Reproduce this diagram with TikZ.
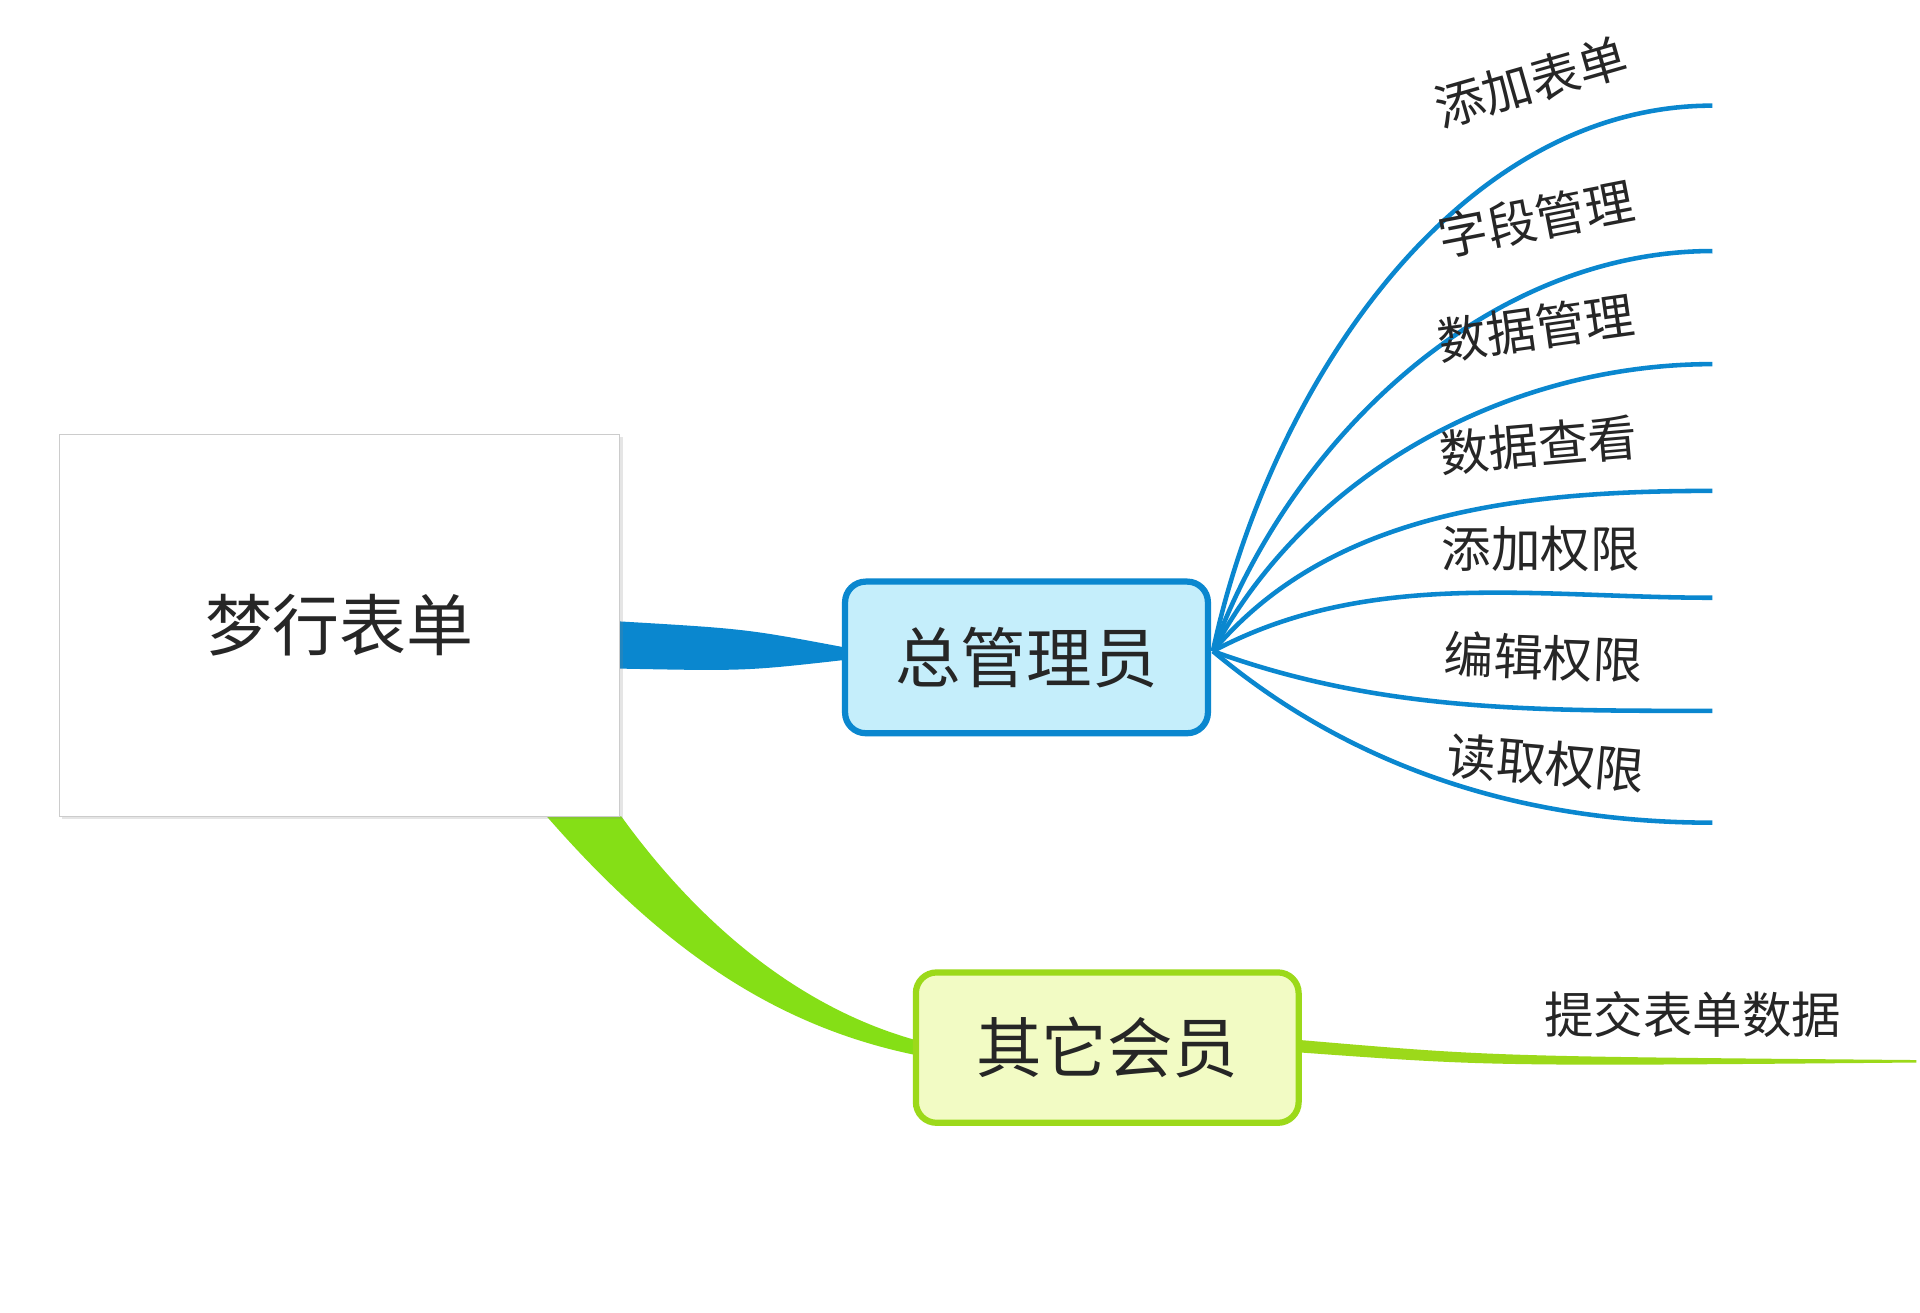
\documentclass[tikz,border=0pt]{standalone}
\usepackage{fontspec}
\newfontfamily\cjk{Noto Sans CJK SC}
\usetikzlibrary{shadows,calc}
\definecolor{bluel}{HTML}{0A87CF}
\definecolor{bluef}{HTML}{C5EEFB}
\definecolor{greenl}{HTML}{9CD91A}
\definecolor{greenf}{HTML}{F2FBC4}
\tikzset{
 leaf/.style={bluel, line width=1.1mm},
 leaftext/.style={font=\cjk\fontsize{34}{38}\selectfont, text=black!85, inner sep=0pt},
}
\begin{document}
\begin{tikzpicture}[x=0.3mm,y=-0.3mm]
\useasboundingbox[fill=white] (0,0) rectangle (1545,1056);
% green ribbon
\fill[greenl!85!green] (440,657) .. controls (530,760) and (620,825) .. (737,849) -- (737,837) .. controls (640,810) and (560,740) .. (500,657) -- cycle;
% blue ribbon
\fill[bluel] (498,500) .. controls (600,506) .. (680,521) -- (680,531) .. controls (600,540) .. (498,538) -- cycle;
% main node
\node[draw=black!20, fill=white, drop shadow={opacity=0.2}, minimum width=451*0.3mm, minimum height=307*0.3mm, font=\cjk\fontsize{46}{50}\selectfont, text=black!85] (main) at (273,503) {梦行表单};
\node[draw=bluel, fill=bluef, line width=1.5mm, rounded corners=5mm, minimum width=292*0.3mm, minimum height=122*0.3mm, font=\cjk\fontsize{45}{50}\selectfont, text=black!85] (admin) at (826,529) {总管理员};
\node[draw=greenl, fill=greenf, line width=1.5mm, rounded corners=5mm, minimum width=308*0.3mm, minimum height=121*0.3mm, font=\cjk\fontsize{45}{50}\selectfont, text=black!85] (other) at (891,843) {其它会员};
% leaves
\coordinate (hub) at (976,524);
\foreach \y/\a/\lx/\ly/\r/\t [count=\i] in {
 85/78/1232/66/16/添加表单,
 202/70/1236/176/11/字段管理,
 293/62/1236/264/8/数据管理,
 395/50/1238/358/5/数据查看,
 481/28/1240/442/0/添加权限,
 572/-20/1242/529/-2/编辑权限,
 662/-40/1244/614/-5/读取权限}{
 \coordinate (e\i) at (1378,\y);
 \draw[leaf] (hub) to[out=\a, in=180, looseness=0.9] (e\i);
 \node[leaftext, rotate=\r] (l\i) at (\lx,\ly) {\t};
}
\coordinate (ge) at (1542,853);
\fill[greenl] ($(other.east)+(0,-6)$) .. controls (1200,850) .. (ge) -- ++(0,2) .. controls (1200,858) .. ($(other.east)+(0,4)$) -- cycle;
\node[leaftext] (g1) at (1362,816) {提交表单数据};
\end{tikzpicture}
\end{document}
